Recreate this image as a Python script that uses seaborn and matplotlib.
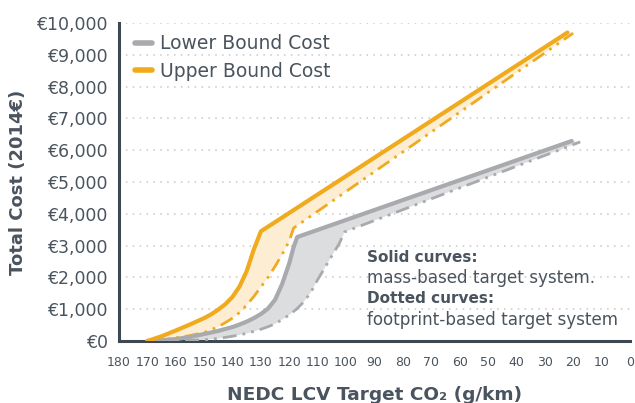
#!/usr/bin/env python3

import pandas as pd
from matplotlib import pyplot as plt
from matplotlib.lines import Line2D
import seaborn as sns

# CO2 target (g/km) vs total cost (2014 EUR)
upper_mass_x = [170, 165, 160, 155, 150, 147.5, 145, 142.5, 140,
                137.5, 135, 132.5, 130, 22]
upper_mass_y = [0, 150, 330, 520, 720, 840, 990, 1160, 1390,
                1720, 2200, 2880, 3450, 9700]

upper_foot_x = [170, 165, 160, 155, 150, 145, 142.5, 140, 137.5, 135, 132.5,
                130, 127.5, 125, 122.5, 120, 118.5, 20]
upper_foot_y = [0, 40, 100, 170, 270, 450, 580, 720, 900, 1130, 1400,
                1700, 2000, 2350, 2730, 3150, 3550, 9680]

lower_mass_x = [170, 165, 160, 155, 150, 145, 140, 137.5, 135, 132.5, 130,
                127.5, 125, 122.5, 120, 118.5, 117.2, 20.5]
lower_mass_y = [0, 25, 60, 130, 220, 320, 440, 520, 610, 720, 850,
                1020, 1300, 1800, 2450, 2950, 3270, 6290]

lower_foot_x = [170, 160, 150, 145, 140, 135, 130, 127.5, 125, 122.5, 120,
                117.5, 115, 112.5, 110, 107.5, 105, 102.5, 100.5, 17.5]
lower_foot_y = [0, 10, 40, 80, 150, 240, 370, 450, 540, 680, 820,
                1000, 1220, 1520, 1930, 2300, 2680, 3050, 3430, 6260]

series_labels = ["Lower Bound Cost", "Upper Bound Cost"]
y_ticks = list(range(0, 10001, 1000))
x_ticks = list(range(180, -1, -10))

ORANGE = "#f0aa1e"
ORANGE_FILL = "#fdeed3"
GRAY = "#a8aaad"
GRAY_FILL = "#dcdddf"
DARK = "#3e4852"
TEXT = "#4a545e"
DASHDOT = (0, (5, 2.2, 1, 2.2, 1, 2.2))

sns.set_style("white")
plt.rcParams["font.family"] = ["DejaVu Sans"]

fig = plt.figure(figsize=(6.35, 4.03), dpi=100)
ax = fig.add_axes([0.1874, 0.1538, 0.8046, 0.7892])

# shaded bands between the two target systems
ax.fill(upper_mass_x + upper_foot_x[::-1], upper_mass_y + upper_foot_y[::-1],
        color=ORANGE_FILL, lw=0, zorder=1)
ax.fill(lower_mass_x + lower_foot_x[::-1], lower_mass_y + lower_foot_y[::-1],
        color=GRAY_FILL, lw=0, zorder=1)

df_um = pd.DataFrame({"co2": upper_mass_x, "cost": upper_mass_y})
df_uf = pd.DataFrame({"co2": upper_foot_x, "cost": upper_foot_y})
df_lm = pd.DataFrame({"co2": lower_mass_x, "cost": lower_mass_y})
df_lf = pd.DataFrame({"co2": lower_foot_x, "cost": lower_foot_y})

sns.lineplot(data=df_lf, x="co2", y="cost", estimator=None, sort=False, ax=ax,
             color=GRAY, lw=2, linestyle=DASHDOT, zorder=3)
sns.lineplot(data=df_uf, x="co2", y="cost", estimator=None, sort=False, ax=ax,
             color=ORANGE, lw=2, linestyle=DASHDOT, zorder=3)
sns.lineplot(data=df_lm, x="co2", y="cost", estimator=None, sort=False, ax=ax,
             color=GRAY, lw=3, zorder=4)
sns.lineplot(data=df_um, x="co2", y="cost", estimator=None, sort=False, ax=ax,
             color=ORANGE, lw=3, zorder=4)

ax.set_xlim(180, 0)
ax.set_ylim(0, 10000)
ax.set_xticks(x_ticks)
ax.set_yticks(y_ticks)
ax.set_yticklabels(["€{:,}".format(v) for v in y_ticks])
ax.tick_params(axis="y", labelsize=12.5, labelcolor=TEXT, pad=8, length=0)
ax.tick_params(axis="x", labelsize=9, labelcolor=TEXT, pad=11, length=0)

ax.grid(axis="y", linestyle=(0, (1, 3.5)), color="#c8c8c8", lw=1.1)
ax.grid(axis="x", visible=False)
for side in ["top", "right"]:
    ax.spines[side].set_visible(False)
for side in ["left", "bottom"]:
    ax.spines[side].set_color(DARK)
    ax.spines[side].set_linewidth(2.2)

ax.set_xlabel("NEDC LCV Target CO₂ (g/km)", fontsize=13.3, fontweight="bold",
              color=TEXT, labelpad=12)
ax.set_ylabel("Total Cost (2014€)", fontsize=13, fontweight="bold",
              color=TEXT, labelpad=7)

handles = [Line2D([], [], color=GRAY, lw=4), Line2D([], [], color=ORANGE, lw=4)]
leg = ax.legend(handles, series_labels, loc="upper left", frameon=False,
                fontsize=13.5, handlelength=0.9, handletextpad=0.4,
                labelspacing=0.45, borderaxespad=0.2,
                bbox_to_anchor=(0.01, 1.0))
for t in leg.get_texts():
    t.set_color(TEXT)

ax.text(0.486, 0.263, "Solid curves:", transform=ax.transAxes, fontsize=11,
        fontweight="bold", color=TEXT, va="center")
ax.text(0.486, 0.197, "mass-based target system.", transform=ax.transAxes,
        fontsize=12.1, color=TEXT, va="center")
ax.text(0.486, 0.134, "Dotted curves:", transform=ax.transAxes, fontsize=11,
        fontweight="bold", color=TEXT, va="center")
ax.text(0.486, 0.065, "footprint-based target system", transform=ax.transAxes,
        fontsize=12.1, color=TEXT, va="center")

fig.savefig("out.png", dpi=100)
